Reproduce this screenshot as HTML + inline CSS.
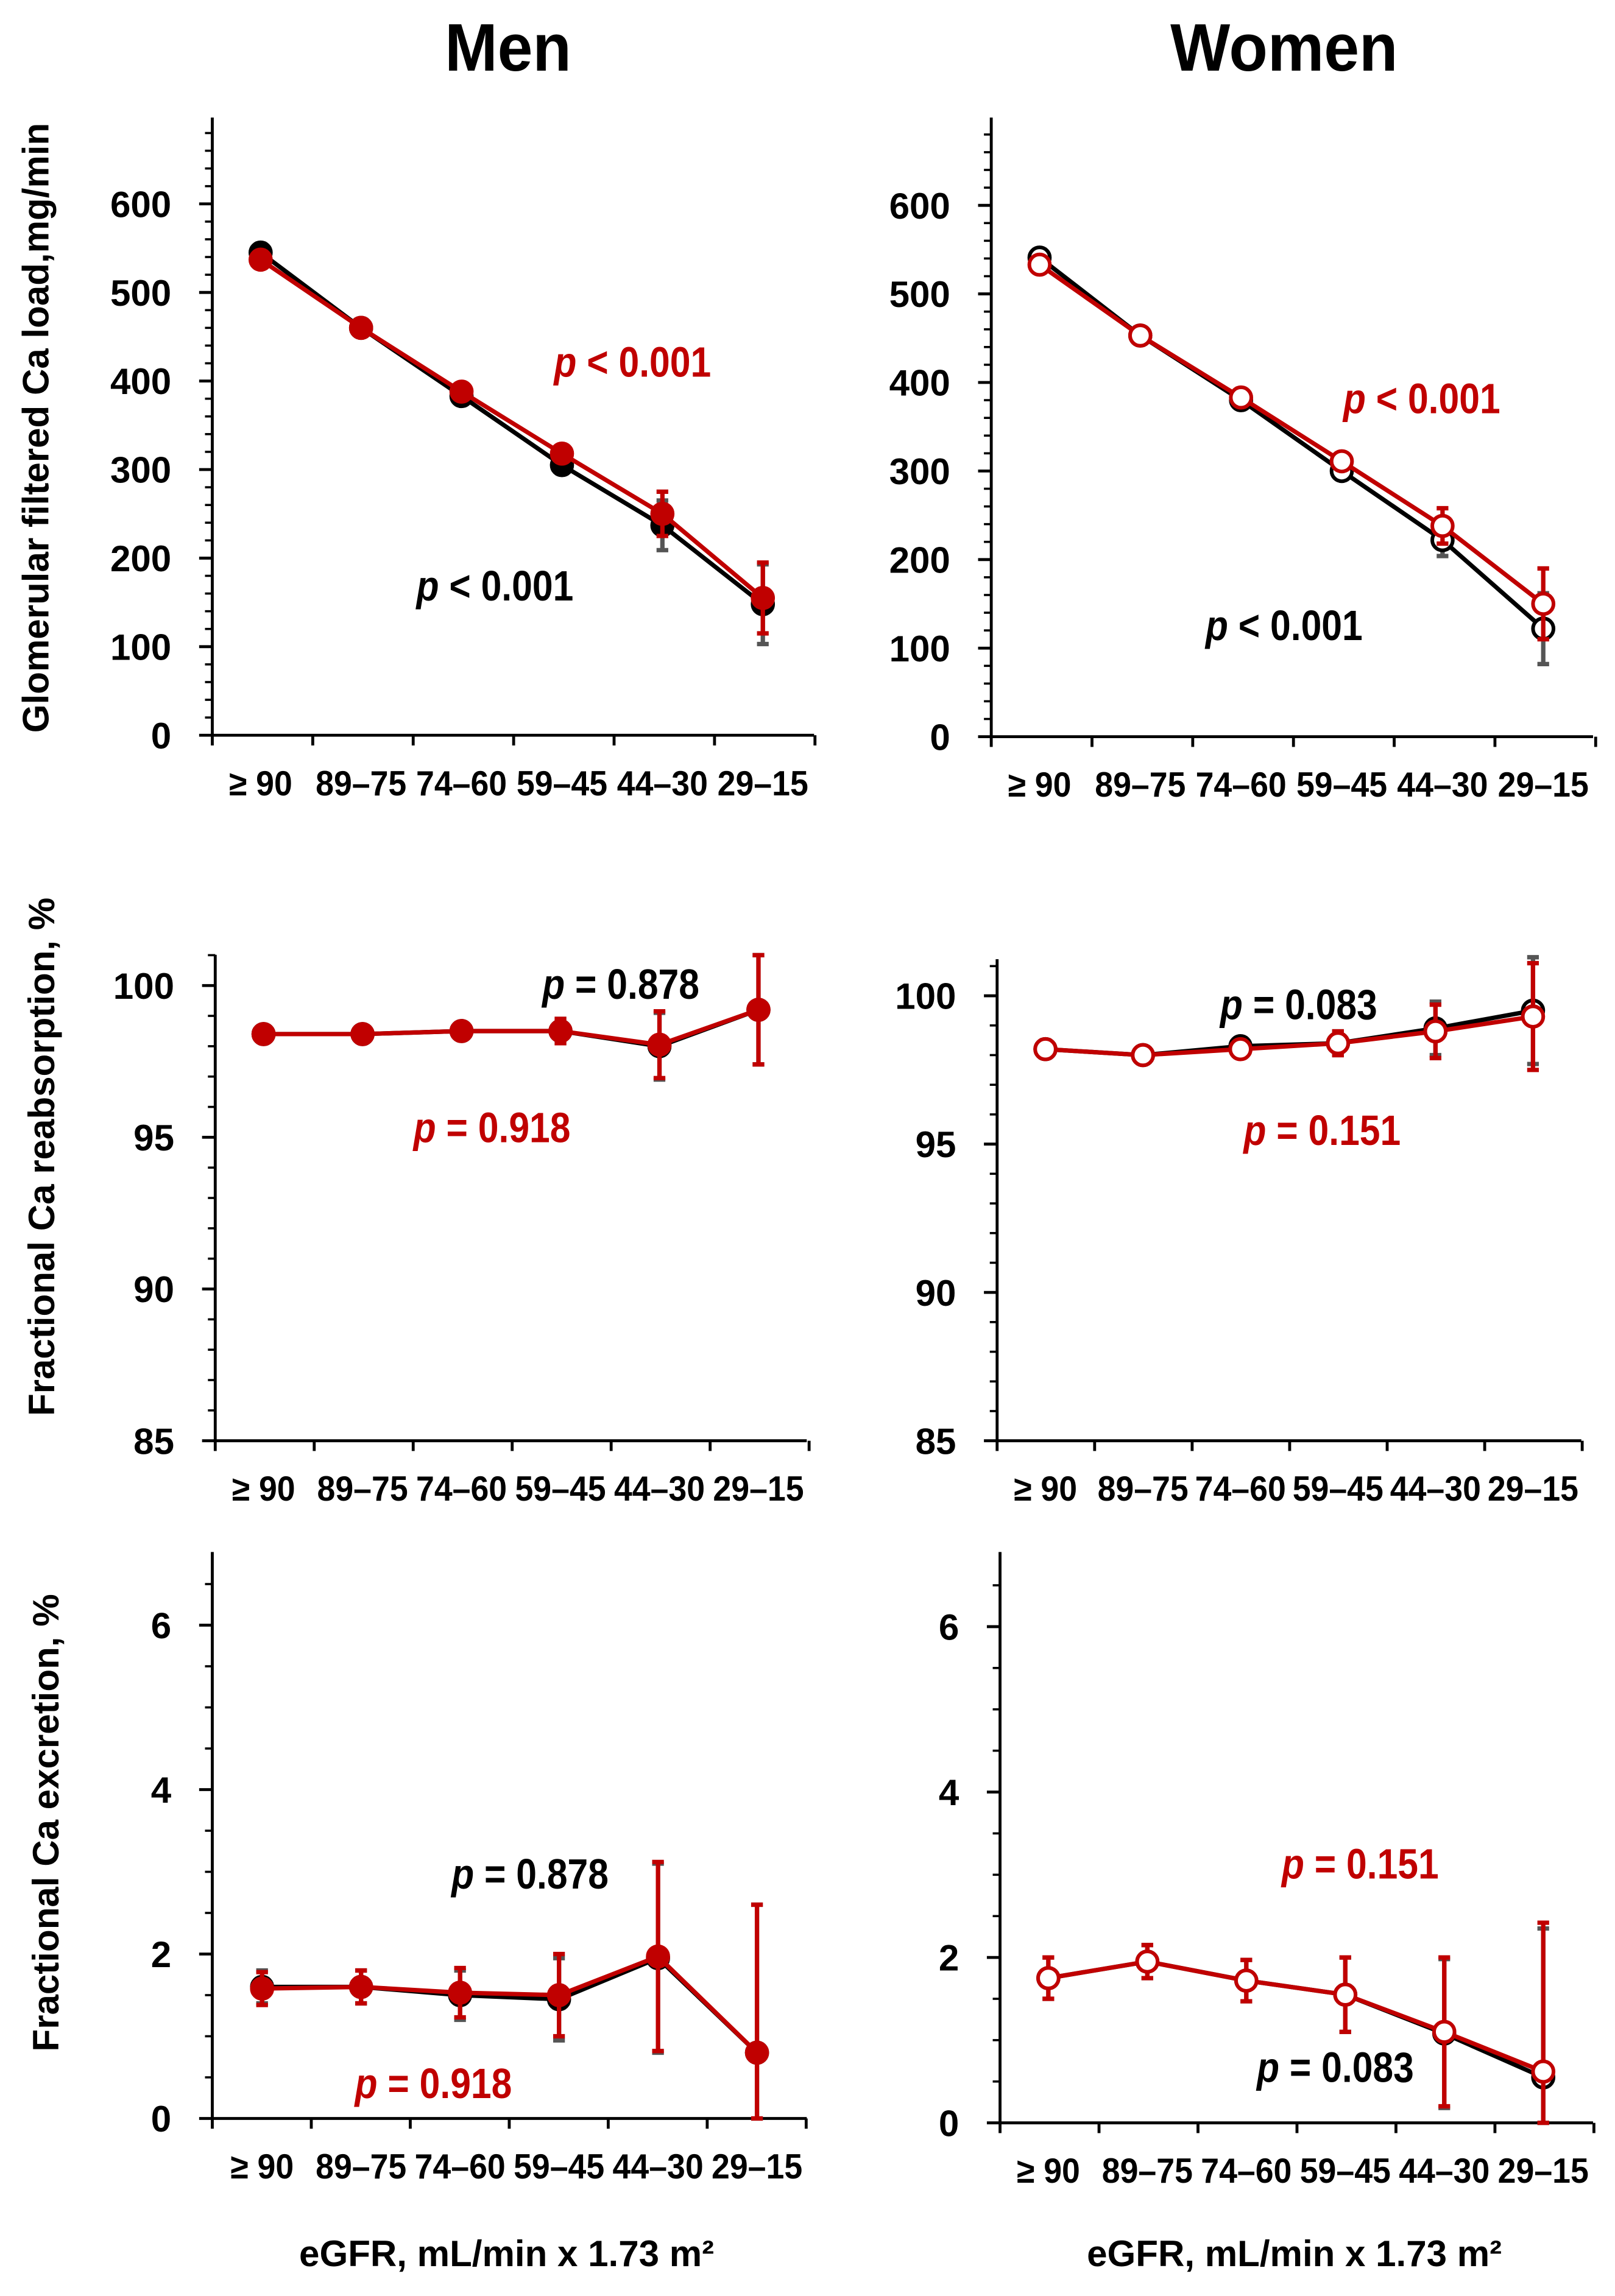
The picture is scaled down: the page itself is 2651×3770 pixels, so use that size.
<!DOCTYPE html>
<html><head><meta charset="utf-8"><style>
html,body{margin:0;padding:0;background:#fff}
svg{display:block}
text{font-family:"Liberation Sans Narrow","Liberation Sans",sans-serif;font-weight:bold}
</style></head><body>
<svg id="chart" xmlns="http://www.w3.org/2000/svg" width="2651" height="3770" viewBox="0 0 1103 1568">
<rect width="1103" height="1568" fill="#fff"/>
<text transform="translate(347,48) scale(0.94,1)" font-size="46" text-anchor="middle">Men</text>
<text transform="translate(877,48) scale(0.94,1)" font-size="46" text-anchor="middle">Women</text>
<text transform="translate(33,292) rotate(-90)" font-size="25" text-anchor="middle">Glomerular filtered Ca load,mg/min</text>
<text transform="translate(37,790) rotate(-90)" font-size="25" text-anchor="middle">Fractional Ca reabsorption, %</text>
<text transform="translate(40,1245) rotate(-90)" font-size="25" text-anchor="middle">Fractional Ca excretion, %</text>
<text transform="translate(346,1548)" font-size="25" text-anchor="middle">eGFR, mL/min x 1.73 m²</text>
<text transform="translate(884,1548)" font-size="25" text-anchor="middle">eGFR, mL/min x 1.73 m²</text>
</svg>
<script>
const categories=["≥ 90","89–75","74–60","59–45","44–30","29–15"];
const menLoadBlack=[545,460,383,305,237,148];
const menLoadRed=[537,460,388,318,250,155];
const menLoadBlackErr=[5,5,6,8,28,45];
const menLoadRedErr=[5,5,6,8,25,40];
const womenLoadBlack=[541,453,380,300,222,122];
const womenLoadRed=[533,453,383,311,238,150];
const womenLoadBlackErr=[5,5,5,6,18,40];
const womenLoadRedErr=[5,5,5,6,20,40];
const menReabBlack=[98.4,98.4,98.5,98.5,98.0,99.2];
const menReabRed=[98.4,98.4,98.5,98.5,98.05,99.2];
const menReabErr=[0.15,0.1,0.25,0.4,1.1,1.8];
const womenReabBlack=[98.2,98.0,98.3,98.4,98.9,99.5];
const womenReabRed=[98.2,98.0,98.2,98.4,98.8,99.3];
const womenReabErr=[0.2,0.1,0.2,0.4,0.9,1.8];
const menExcBlack=[1.6,1.6,1.5,1.45,1.95,0.8];
const menExcRed=[1.58,1.6,1.53,1.5,1.97,0.8];
const menExcErr=[0.2,0.2,0.3,0.5,1.15,1.8];
const womenExcBlack=[1.75,1.95,1.72,1.55,1.08,0.55];
const womenExcRed=[1.75,1.95,1.72,1.55,1.1,0.62];
const womenExcErr=[0.25,0.2,0.25,0.45,0.9,1.8];
const loadTicks=[0,100,200,300,400,500,600];
const reabTicks=[85,90,95,100];
const excTicks=[0,2,4,6];

const svg=document.getElementById('chart');
const NS='http://www.w3.org/2000/svg';
function mk(tag,attrs,parent){const e=document.createElementNS(NS,tag);for(const k in attrs)e.setAttribute(k,attrs[k]);(parent||svg).appendChild(e);return e;}

function panel(cfg){
  const g=mk('g',{});
  
  
  const yv=v=>cfg.y0+(v-cfg.vmin)*(cfg.y1-cfg.y0)/(cfg.vmax-cfg.vmin);
  const xc=i=>cfg.cx0+i*cfg.dx;
  const yAx=mk('line',{x1:cfg.ax,y1:cfg.top,x2:cfg.ax,y2:cfg.y0,stroke:'#000','stroke-width':2},g);
  
  
  const xAx=mk('line',{x1:cfg.ax,y1:cfg.y0,x2:cfg.xend,y2:cfg.y0,stroke:'#000','stroke-width':2},g);
  
  
  const t=cfg.ticks, step=t[1]-t[0];
  for(let v=t[0];v<=t[t.length-1]+step;v+=step/cfg.minor){
    const y=yv(v);
    if(y<cfg.top)break;
    mk('line',{x1:cfg.ax-5,y1:y,x2:cfg.ax,y2:y,stroke:'#000','stroke-width':1.5},g);
  }
  t.forEach(v=>{
    const y=yv(v);
    mk('line',{x1:cfg.ax-9,y1:y,x2:cfg.ax,y2:y,stroke:'#000','stroke-width':2},g);
    const tx=mk('text',{transform:`translate(${cfg.ax-28},${y+9})`,'font-size':25,'text-anchor':'end'},g);
    
    
    tx.textContent=v;
  });
  for(let i=0;i<=categories.length;i++){
    const x=cfg.ax+i*cfg.dx;
    mk('line',{x1:x,y1:cfg.y0,x2:x,y2:cfg.y0+7,stroke:'#000','stroke-width':2},g);
  }
  categories.forEach((c,i)=>{
    const tx=mk('text',{transform:`translate(${xc(i)},${cfg.y0+41}) scale(0.93,1)`,'font-size':24,'text-anchor':'middle'},g);
    
    
    tx.textContent=c;
  });
  [[cfg.black,cfg.bErr,'#000','#555'],[cfg.red,cfg.rErr,'#c00000','#c00000']].forEach(([d,err,col,ecol],si)=>{
    err.forEach((e,i)=>{
      const x=xc(i),ya=yv(d[i]+e),yb=yv(Math.max(cfg.vmin,d[i]-e));
      const eb=mk('path',{d:`M${x},${ya}V${yb}M${x-4},${ya}H${x+4}M${x-4},${yb}H${x+4}`,stroke:ecol,'stroke-width':3,fill:'none'},g);
      
      
    });
    const ln=mk('polyline',{points:d.map((v,i)=>xc(i)+','+yv(v)).join(' '),stroke:col,'stroke-width':3,fill:'none'},g);
    
    
    d.forEach((v,i)=>{
      const c=mk('circle',{cx:xc(i),cy:yv(v),r:7,fill:cfg.open?'#fff':col,stroke:col,'stroke-width':2.5},g);
      
      
    });
  });
  cfg.pvals.forEach(p=>{
    const tx=mk('text',{transform:`translate(${p[0]},${p[1]+10}) scale(0.87,1)`,'font-size':29,'text-anchor':'middle',fill:p[3]},g);
    
    
    const a=mk('tspan',{'font-style':'italic'},tx);a.textContent='p';
    const b=mk('tspan',{},tx);b.textContent=p[2];
  });
}
const R='#c00000';
panel({name:'men-load-panel',ax:145,top:80,y0:502,y1:139,vmin:0,vmax:600,ticks:loadTicks,minor:5,xend:556,cx0:178,dx:68.6,black:menLoadBlack,red:menLoadRed,bErr:menLoadBlackErr,rErr:menLoadRedErr,open:false,pvals:[[432,247,' < 0.001',R],[338,400,' < 0.001','#000']]});
panel({name:'women-load-panel',ax:677,top:80,y0:503,y1:140,vmin:0,vmax:600,ticks:loadTicks,minor:5,xend:1088,cx0:710,dx:68.8,black:womenLoadBlack,red:womenLoadRed,bErr:womenLoadBlackErr,rErr:womenLoadRedErr,open:true,pvals:[[971,272,' < 0.001',R],[877,427,' < 0.001','#000']]});
panel({name:'men-reabsorption-panel',ax:147,top:652,y0:984,y1:673,vmin:85,vmax:100,ticks:reabTicks,minor:5,xend:551,cx0:180,dx:67.6,black:menReabBlack,red:menReabRed,bErr:menReabErr,rErr:menReabErr,open:false,pvals:[[424,672,' = 0.878','#000'],[336,770,' = 0.918',R]]});
panel({name:'women-reabsorption-panel',ax:681,top:655,y0:984,y1:680,vmin:85,vmax:100,ticks:reabTicks,minor:5,xend:1080,cx0:714,dx:66.6,black:womenReabBlack,red:womenReabRed,bErr:womenReabErr,rErr:womenReabErr,open:true,pvals:[[887,686,' = 0.083','#000'],[903,772,' = 0.151',R]]});
panel({name:'men-excretion-panel',ax:145,top:1060,y0:1447,y1:1110,vmin:0,vmax:6,ticks:excTicks,minor:4,xend:551,cx0:179,dx:67.6,black:menExcBlack,red:menExcRed,bErr:menExcErr,rErr:menExcErr,open:false,pvals:[[362,1280,' = 0.878','#000'],[296,1423,' = 0.918',R]]});
panel({name:'women-excretion-panel',ax:683,top:1060,y0:1450,y1:1111,vmin:0,vmax:6,ticks:excTicks,minor:4,xend:1088,cx0:716,dx:67.6,black:womenExcBlack,red:womenExcRed,bErr:womenExcErr,rErr:womenExcErr,open:true,pvals:[[929,1273,' = 0.151',R],[912,1412,' = 0.083','#000']]});
</script>
</body></html>
